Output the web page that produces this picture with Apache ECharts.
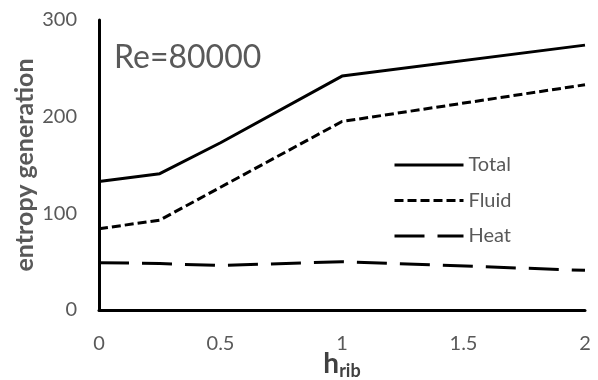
<!DOCTYPE html>
<html>
<head>
<meta charset="utf-8">
<script src="https://cdn.jsdelivr.net/npm/echarts@6/dist/echarts.min.js"></script>
<style>
  html, body { margin: 0; padding: 0; background: #fff; }
  #chart { width: 598px; height: 380px; }
</style>
</head>
<body>
<div id="chart"></div>
<script>
// h_rib values and entropy generation
const hRib = [0, 0.25, 0.5, 1, 2];
const total = [133, 141, 173, 242, 274];
const fluid = [84, 93, 127, 195, 233];
const heat = [49, 48, 46, 50, 41];

const gray = '#595959';
const font = 'Lato, "Open Sans", sans-serif';

function pairs(ys) {
  return hRib.map(function (x, i) { return [x, ys[i]]; });
}

const chart = echarts.init(document.getElementById('chart'));
const option = {
  animation: false,
  textStyle: { fontFamily: font },
  title: {
    text: 'Re=80000',
    left: 109,
    top: 37,
    textStyle: { fontSize: 32, fontWeight: 'normal', color: gray, fontFamily: font }
  },
  legend: {
    orient: 'vertical',
    left: 388,
    top: 150,
    itemWidth: 69,
    itemHeight: 20,
    itemGap: 15.5,
    textStyle: { fontSize: 20, color: gray, fontFamily: font },
    itemStyle: { opacity: 0 },
    lineStyle: { width: 3 },
    data: ['Total', 'Fluid', 'Heat']
  },
  grid: { left: 99, top: 20, right: 13, bottom: 70, outerBoundsMode: 'none' },
  xAxis: {
    type: 'value',
    min: 0,
    max: 2,
    interval: 0.5,
    name: '{b|h}{s|rib}',
    nameLocation: 'middle',
    nameMoveOverlap: false,
    nameGap: 37,
    nameTextStyle: {
      rich: {
        b: { fontSize: 28, fontWeight: 'bold', color: '#404040', fontFamily: font },
        s: { fontSize: 18, fontWeight: 'bold', color: '#404040', fontFamily: font, padding: [15, 0, 0, 0] }
      }
    },
    axisLine: { lineStyle: { color: '#000', width: 3 } },
    axisTick: { show: false },
    splitLine: { show: false },
    axisLabel: { fontSize: 20, color: gray, margin: 24, fontFamily: font }
  },
  yAxis: {
    type: 'value',
    min: 0,
    max: 300,
    interval: 100,
    name: 'entropy generation',
    nameLocation: 'middle',
    nameMoveOverlap: false,
    nameGap: 62,
    nameTextStyle: { fontSize: 25, fontWeight: 'bold', color: gray, fontFamily: font },
    axisLine: { show: true, lineStyle: { color: '#000', width: 3 } },
    axisTick: { show: false },
    splitLine: { show: false },
    axisLabel: { fontSize: 20, color: gray, margin: 22, fontFamily: font }
  },
  series: [
    {
      name: 'Total', type: 'line', data: pairs(total), symbol: 'none',
      lineStyle: { color: '#000', width: 3 }, itemStyle: { color: '#000' }
    },
    {
      name: 'Fluid', type: 'line', data: pairs(fluid), symbol: 'none',
      lineStyle: { color: '#000', width: 3, type: [9, 4] }, itemStyle: { color: '#000' }
    },
    {
      name: 'Heat', type: 'line', data: pairs(heat), symbol: 'none',
      lineStyle: { color: '#000', width: 3, type: [30, 13] }, itemStyle: { color: '#000' }
    }
  ]
};
chart.setOption(option);
</script>
</body>
</html>
